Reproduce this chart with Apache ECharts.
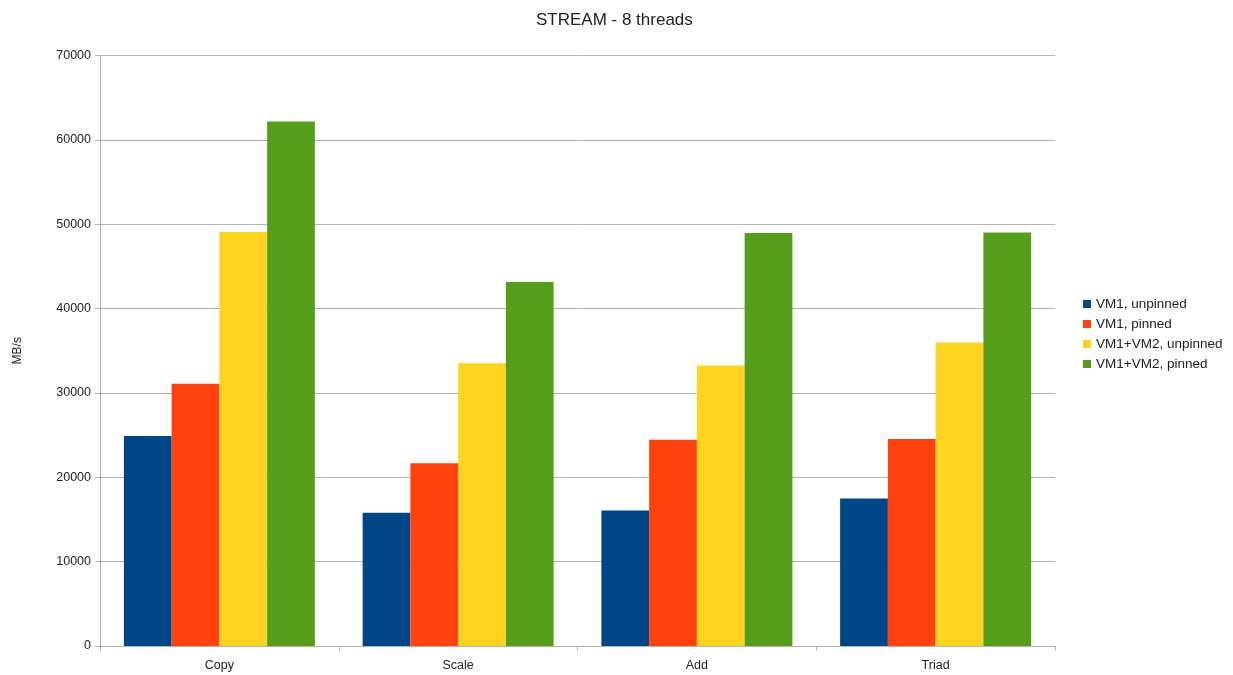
<!DOCTYPE html>
<html>
<head>
<meta charset="utf-8">
<title>STREAM - 8 threads</title>
<script src="https://cdn.jsdelivr.net/npm/echarts@6/dist/echarts.min.js"></script>
<style>
  html, body { margin: 0; padding: 0; background: #fff; }
  #chart { width: 1233px; height: 675px; }
</style>
</head>
<body>
<div id="chart"></div>
<script>
// STREAM benchmark results, MB/s, 8 threads
const categories = ['Copy', 'Scale', 'Add', 'Triad'];
const seriesNames = ['VM1, unpinned', 'VM1, pinned', 'VM1+VM2, unpinned', 'VM1+VM2, pinned'];
const vm1Unpinned = [24880, 15810, 16050, 17500];
const vm1Pinned = [31080, 21660, 24450, 24530];
const bothUnpinned = [49070, 33530, 33250, 35980];
const bothPinned = [62170, 43150, 48950, 49030];
const colors = ['#004586', '#ff420e', '#ffd320', '#579d1c'];

const values = [vm1Unpinned, vm1Pinned, bothUnpinned, bothPinned];
const font = 'Liberation Sans, Arial, sans-serif';

const chart = echarts.init(document.getElementById('chart'), null, { renderer: 'canvas' });
chart.setOption({
  animation: false,
  textStyle: { fontFamily: font },
  title: {
    text: 'STREAM - 8 threads',
    left: 531,
    top: 7,
    textStyle: { fontFamily: font, fontSize: 17, fontWeight: 'normal', color: '#222' }
  },
  legend: {
    orient: 'vertical',
    left: 1078,
    top: 292,
    itemWidth: 8,
    itemHeight: 8,
    itemGap: 6,
    icon: 'rect',
    data: seriesNames,
    textStyle: { fontFamily: font, fontSize: 13.5, color: '#222' }
  },
  grid: { left: 100, right: 178, top: 55.5, bottom: 29, containLabel: false },
  xAxis: {
    type: 'category',
    data: categories,
    axisLine: { lineStyle: { color: '#b3b3b3', width: 1 } },
    axisTick: { show: true, alignWithLabel: false, length: 5, lineStyle: { color: '#b3b3b3' } },
    axisLabel: { fontFamily: font, fontSize: 12.5, color: '#222', margin: 13 },
    splitLine: { show: false }
  },
  yAxis: {
    type: 'value',
    min: 0,
    max: 70000,
    interval: 10000,
    name: 'MB/s',
    nameLocation: 'middle',
    nameGap: 76,
    nameTextStyle: { fontFamily: font, fontSize: 12, color: '#222' },
    axisLine: { show: true, lineStyle: { color: '#b3b3b3', width: 1 } },
    axisTick: { show: true, length: 5, lineStyle: { color: '#b3b3b3' } },
    axisLabel: { fontFamily: font, fontSize: 12.5, color: '#222', margin: 9, formatter: v => String(v) },
    splitLine: { show: true, lineStyle: { color: '#b3b3b3', width: 1 } }
  },
  series: seriesNames.map((name, i) => ({
    name: name,
    type: 'bar',
    data: values[i],
    barGap: '0%',
    barCategoryGap: '20%',
    itemStyle: { color: colors[i] }
  }))
});
</script>
</body>
</html>
